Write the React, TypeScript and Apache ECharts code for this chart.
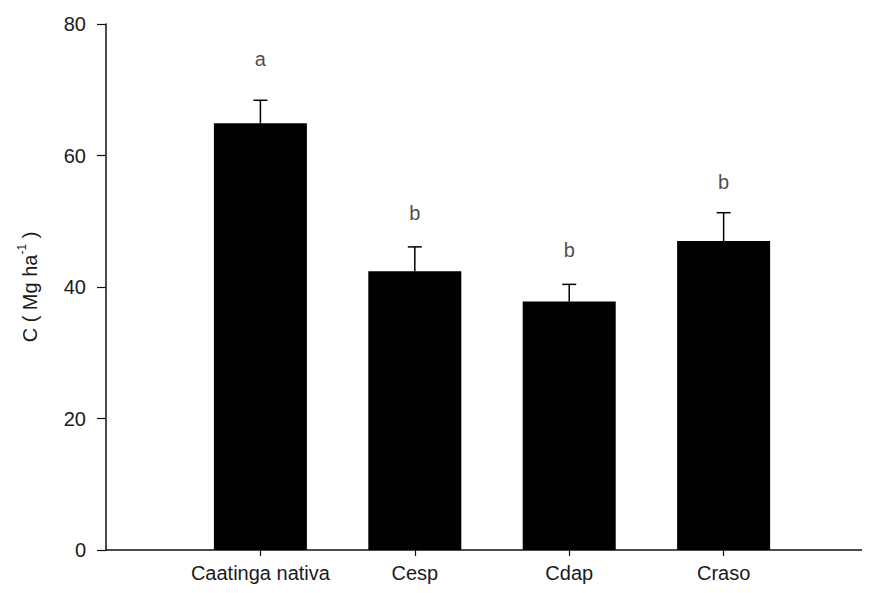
import React, { useEffect, useRef } from "react";
import * as echarts from "echarts";

const categories = ["Caatinga nativa", "Cesp", "Cdap", "Craso"];
const means = [64.9, 42.4, 37.8, 47.0];
const errorTops = [68.4, 46.1, 40.4, 51.3];
const letters = ["a", "b", "b", "b"];
const letterY = [74.7, 51.3, 45.6, 56.0];
const yTicks = [0, 20, 40, 60, 80];

const FONT = "'Liberation Sans', Arial, sans-serif";

export default function App() {
  const ref = useRef<HTMLDivElement>(null);
  useEffect(() => {
    if (!ref.current) return;
    const chart = echarts.init(ref.current, null, { renderer: "svg" });
    const positions = categories.map((_, i) => i + 1);
    chart.setOption({
      animation: false,
      backgroundColor: "#ffffff",
      grid: { left: 106, right: 0, top: 24, bottom: 43 },
      xAxis: {
        type: "value",
        min: 0,
        max: 4.948,
        interval: 1,
        splitLine: { show: false },
        axisLine: { show: true, lineStyle: { color: "#111", width: 1.5 } },
        axisTick: {
          show: true,
          customValues: positions,
          length: 6,
          lineStyle: { color: "#111", width: 1.2 },
        },
        axisLabel: {
          customValues: positions,
          formatter: (v: number) => categories[Math.round(v) - 1] ?? "",
          fontFamily: FONT,
          fontSize: 20,
          color: "#1a1a1a",
          margin: 13,
        },
      },
      yAxis: {
        type: "value",
        min: 0,
        max: 80,
        interval: 20,
        splitLine: { show: false },
        axisLine: { show: true, lineStyle: { color: "#111", width: 1.5 } },
        axisTick: { show: true, length: 9, lineStyle: { color: "#111", width: 1.2 } },
        axisLabel: {
          fontFamily: FONT,
          fontSize: 20,
          color: "#1a1a1a",
          margin: 20,
          formatter: (v: number) => (yTicks.includes(v) ? String(v) : ""),
        },
        name: "{n|C ( Mg ha}{s|-1}{n| )}",
        nameLocation: "middle",
        nameRotate: 90,
        nameGap: 66,
        nameTextStyle: {
          fontFamily: FONT,
          color: "#1a1a1a",
          rich: {
            n: { fontFamily: FONT, fontSize: 20, color: "#1a1a1a", lineHeight: 24, verticalAlign: "bottom" },
            s: { fontFamily: FONT, fontSize: 12, color: "#1a1a1a", lineHeight: 24, verticalAlign: "top" },
          },
        },
      },
      series: [
        {
          type: "bar",
          data: means.map((m, i) => [positions[i], m]),
          barWidth: 93,
          itemStyle: { color: "#000000" },
        },
        {
          type: "custom",
          data: errorTops.map((t, i) => [positions[i], means[i], t]),
          renderItem: (params: any, api: any) => {
            const x = api.value(0);
            const base = api.coord([x, api.value(1)]);
            const top = api.coord([x, api.value(2)]);
            const half = 7;
            return {
              type: "group",
              children: [
                {
                  type: "line",
                  shape: { x1: base[0], y1: base[1], x2: top[0], y2: top[1] },
                  style: { stroke: "#000", lineWidth: 1.5 },
                },
                {
                  type: "line",
                  shape: { x1: top[0] - half, y1: top[1], x2: top[0] + half, y2: top[1] },
                  style: { stroke: "#000", lineWidth: 1.5 },
                },
              ],
            };
          },
          z: 5,
        },
        {
          type: "scatter",
          data: letterY.map((y, i) => [positions[i], y]),
          symbolSize: 0,
          label: {
            show: true,
            position: "inside",
            formatter: (p: any) => letters[p.dataIndex],
            fontFamily: FONT,
            fontSize: 20,
            color: "#1a1a1a",
          },
          z: 6,
        },
      ],
    });
    return () => chart.dispose();
  }, []);
  return <div ref={ref} style={{ width: 870, height: 593, margin: -8 }} />;
}
